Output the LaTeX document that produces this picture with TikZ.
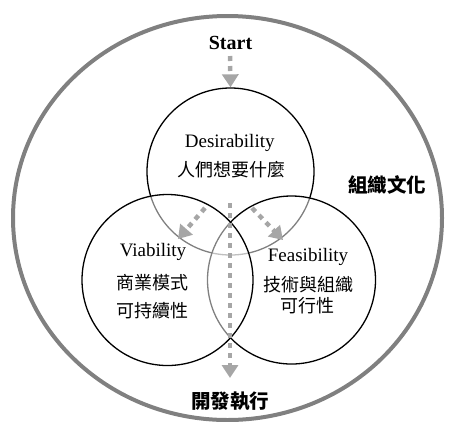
\documentclass[tikz,border=0pt]{standalone}
\usepackage{fontspec}
\setmainfont{Liberation Serif}
\newfontfamily\cjk{Noto Sans CJK TC}
\usetikzlibrary{arrows.meta}
\definecolor{ring}{RGB}{128,128,128}
\definecolor{dotc}{RGB}{166,166,166}
\begin{document}
\begin{tikzpicture}[x=1pt,y=-1pt,
  venn/.style={circle, draw=black, line width=1.3pt, inner sep=0pt},
  flow/.style={draw=dotc, line width=4.5pt, dash pattern=on 5pt off 5pt, -{Triangle[length=13pt,width=16pt]}},
  lat/.style={font=\fontsize{19}{22}\selectfont, anchor=base},
  latb/.style={font=\bfseries\fontsize{20}{24}\selectfont, anchor=base},
  han/.style={font=\cjk\fontsize{18}{22}\selectfont, anchor=base},
  hanb/.style={font=\cjk\bfseries\fontsize{19.5}{22}\selectfont, anchor=base}]
\useasboundingbox (0,0) rectangle (449,421);
\draw[ring, line width=4pt] (227.5,218) ellipse [x radius=214.5pt, y radius=202pt];
% circles
\node[venn, minimum size=167pt] (D) at (230.5,171.5) {};
\node[venn, minimum size=168pt, fill=white, fill opacity=0.5] (F) at (291.5,280) {};
\node[venn, minimum size=171pt, fill=white, fill opacity=0.5] (V) at (167.5,280) {};
% texts
\node[latb] (start) at (230.5,49) {Start};
\node[lat] (des) at (229.7,147.5) {Desirability};
\node[han] (des2) at (231.5,176) {人們想要什麼};
\node[lat] (via) at (153,256) {Viability};
\node[han] (via2) at (152.5,289) {商業模式};
\node[han] (via3) at (152.5,317) {可持續性};
\node[lat] (fea) at (308,261.7) {Feasibility};
\node[han] (fea2) at (308.5,291) {技術與組織};
\node[han] (fea3) at (307.5,312.8) {可行性};
\node[hanb] (cult) at (387,192.5) {組織文化};
\node[hanb] (dev) at (230,408) {開發執行};
% connectors
\coordinate (s0) at (230,56);
\coordinate (vtop) at (230,203);
\coordinate (vend) at (230,378);
\coordinate (l0) at (205,208);
\coordinate (l1) at (178,239);
\coordinate (r0) at (252,208);
\coordinate (r1) at (283,240);
\draw[flow] (s0) -- (D.north);
\draw[flow] (l0) -- (l1);
\draw[flow] (r0) -- (r1);
\draw[flow] (vtop) -- (vend);
\end{tikzpicture}
\end{document}
